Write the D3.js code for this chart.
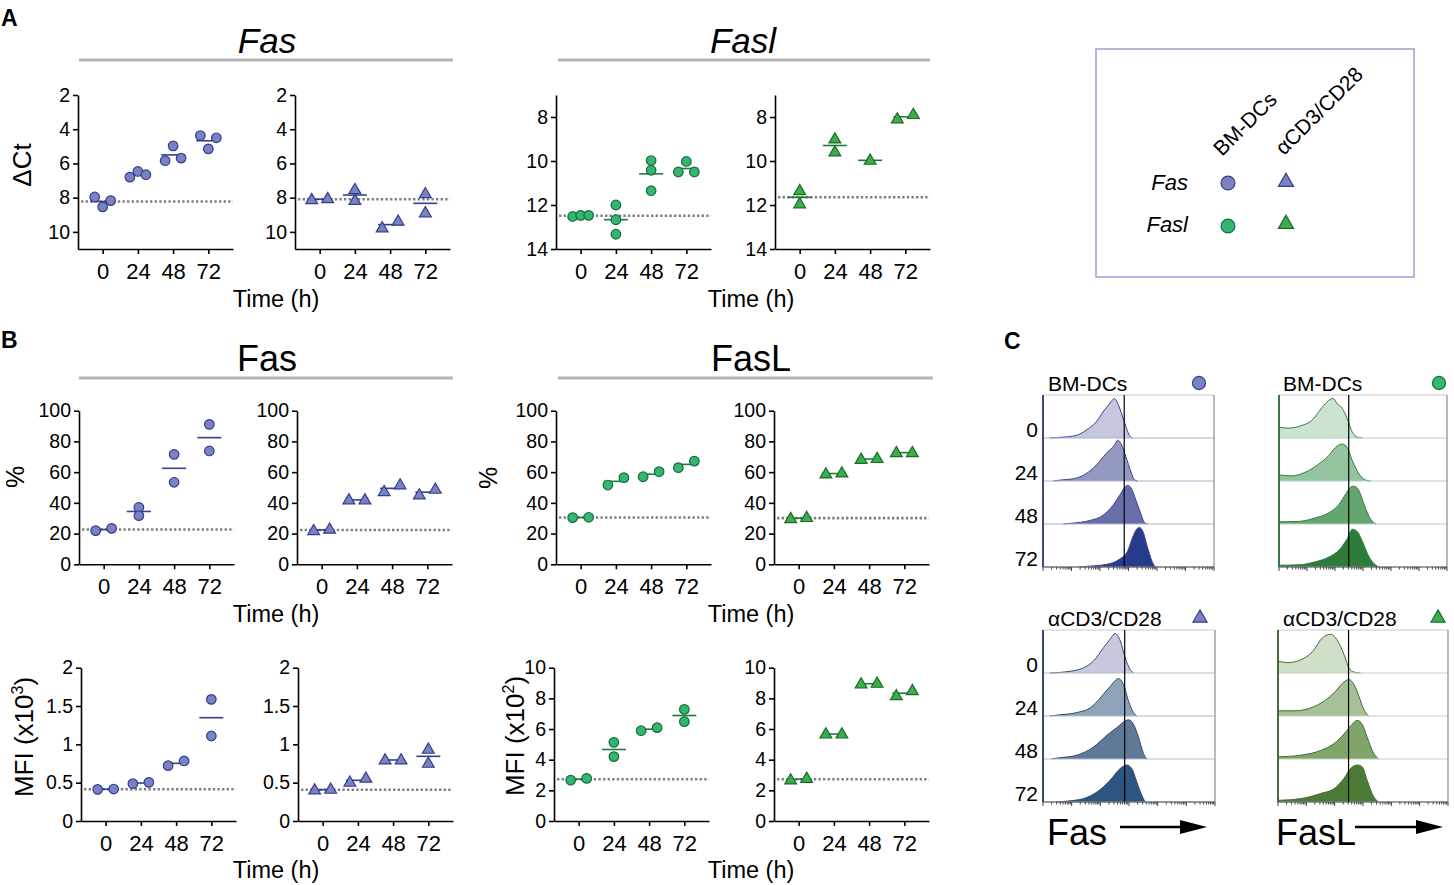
<!DOCTYPE html>
<html><head><meta charset="utf-8">
<script src="https://cdn.jsdelivr.net/npm/d3@7"></script>
<style>
body{margin:0;background:#fff}
svg{display:block}
text{font-family:Arial,"Liberation Sans",Helvetica,sans-serif;fill:#000}
</style>
</head><body>
<svg id="c" width="1454" height="885"></svg>
<script>
// ---------------- DATA ----------------
const times = [0, 24, 48, 72];

// Panel A: ΔCt (qPCR), one array per time point
const ctFasBMDC   = [[7.96, 8.54, 8.17], [6.80, 6.47, 6.66], [5.84, 4.97, 5.69], [4.37, 5.15, 4.50]];
const ctFasCD3    = [[8.12, 8.06], [7.53, 8.16], [9.77, 9.38], [7.77, 8.89]];
const ctFaslBMDC  = [[12.52, 12.47, 12.47], [12.0, 12.67, 13.33], [9.98, 10.42, 11.35], [10.5, 10.02, 10.5]];
const ctFaslCD3   = [[11.35, 11.95], [9.0, 9.59], [9.97], [8.09, 7.89]];

// Panel B: % positive cells
const pctFasBMDC  = [[21.9, 23.4], [37.1, 31.7], [71.6, 53.4], [91.1, 73.8]];
const pctFasCD3   = [[21.9, 22.8], [41.9, 41.9], [47.3, 51.6], [45.1, 48.8]];
const pctFasLBMDC = [[30.4, 30.6], [51.6, 56.4], [57.0, 60.3], [62.9, 67.2]];
const pctFasLCD3  = [[29.7, 30.4], [58.8, 59.4], [68.3, 68.8], [72.7, 72.7]];

// Panel B: MFI
const mfiFasBMDC  = [[0.413, 0.417], [0.487, 0.504], [0.722, 0.783], [1.587, 1.109]];
const mfiFasCD3   = [[0.404, 0.413], [0.504, 0.557], [0.796, 0.796], [0.935, 0.752]];
const mfiFasLBMDC = [[2.67, 2.78], [5.13, 4.20], [5.89, 6.09], [7.28, 6.48]];
const mfiFasLCD3  = [[2.67, 2.78], [5.67, 5.67], [8.93, 8.98], [8.17, 8.5]];

// Tick labels
const ticksCtFas  = [2, 4, 6, 8, 10];
const ticksCtFasl = [8, 10, 12, 14];
const ticksPct    = [0, 20, 40, 60, 80, 100];
const ticksMfiFas = [0, 0.5, 1, 1.5, 2];
const ticksMfiFasL= [0, 2, 4, 6, 8, 10];

// Panel C: histograms [channel (0-100), normalized count], rows 0/24/48/72 h
const histFasBMDC = [
  [[4,0],[11.7,0.02],[19.4,0.06],[25.2,0.18],[31,0.37],[35.9,0.65],[39.8,0.84],[41.7,0.92],[43.7,0.8],[46.6,0.49],[48.9,0.22],[50.5,0.06],[52.4,0]],
  [[6,0],[9.7,0.02],[17.5,0.05],[25.2,0.17],[31,0.36],[36.9,0.64],[41.7,0.83],[43.7,0.95],[45.6,0.87],[48.5,0.56],[51.5,0.21],[53.4,0.03],[55.3,0]],
  [[12,0],[17.5,0.02],[27.2,0.08],[35,0.2],[40.8,0.43],[44.7,0.66],[47.6,0.84],[49.5,0.9],[51.5,0.84],[54.4,0.55],[57.3,0.23],[59.2,0.04],[61.2,0]],
  [[22,0],[27.2,0.02],[36.9,0.06],[44.7,0.18],[49.5,0.37],[52.4,0.69],[54.4,0.86],[56.3,0.92],[58.3,0.84],[61.2,0.45],[63.7,0.14],[65.6,0]]
];
const histFasCD3 = [
  [[4,0],[13.9,0.03],[23.6,0.12],[29.4,0.28],[35.2,0.59],[39.1,0.79],[42,0.92],[44.9,0.75],[47.8,0.35],[50.7,0.08],[52.6,0]],
  [[4,0],[8.1,0.02],[19.7,0.08],[27.5,0.19],[33.3,0.42],[39.1,0.69],[43.9,0.87],[46.8,0.73],[49.7,0.35],[52.6,0.08],[54.5,0]],
  [[5,0],[8.1,0.02],[19.7,0.09],[29.4,0.28],[37.1,0.55],[42.9,0.73],[49.7,0.91],[52.6,0.81],[55.5,0.51],[58.4,0.13],[60.3,0]],
  [[8,0],[13.9,0.02],[23.6,0.08],[31.3,0.23],[39.1,0.51],[44.9,0.78],[48.7,0.86],[51.6,0.78],[54.5,0.47],[57.4,0.16],[59.4,0]]
];
const histFasLBMDC = [
  [[0.4,0.25],[5.4,0.23],[13.5,0.29],[19.5,0.41],[24.5,0.65],[28.6,0.84],[32.2,0.92],[34.6,0.8],[37.6,0.69],[40.6,0.45],[43.7,0.13],[46.7,0.02],[49.7,0]],
  [[0.4,0.14],[7.4,0.12],[15.5,0.2],[23.5,0.39],[29.6,0.59],[33.6,0.78],[37.6,0.86],[40.6,0.78],[43.7,0.47],[47.7,0.16],[51.7,0.02],[54.7,0]],
  [[0.4,0.05],[11.5,0.06],[21.5,0.14],[29.6,0.26],[35.6,0.45],[39.6,0.69],[42.7,0.86],[44.7,0.88],[47.7,0.77],[50.7,0.45],[54.7,0.1],[57.7,0]],
  [[0.4,0.04],[11.5,0.05],[21.5,0.12],[29.6,0.23],[36.6,0.43],[40.6,0.66],[43.7,0.88],[46.7,0.82],[49.7,0.59],[53.7,0.23],[57.7,0.04],[59.8,0]]
];
const histFasLCD3 = [
  [[0.4,0.27],[5.8,0.24],[13.6,0.31],[20.4,0.5],[26.2,0.82],[31.1,0.9],[35,0.75],[38.8,0.43],[41.7,0.12],[44.7,0.02],[48.5,0]],
  [[0.4,0.12],[9.7,0.12],[19.4,0.19],[27.2,0.35],[33,0.54],[38.8,0.79],[41.7,0.85],[44.7,0.73],[47.6,0.46],[50.5,0.15],[53.4,0]],
  [[0.4,0.05],[13.6,0.09],[25.2,0.2],[33,0.36],[38.8,0.58],[43.7,0.81],[46.6,0.9],[49.5,0.81],[52.4,0.51],[56.3,0.13],[59.2,0]],
  [[0.4,0.04],[13.6,0.08],[25.2,0.2],[33,0.31],[38.8,0.55],[42.7,0.78],[46.6,0.86],[49.5,0.82],[52.4,0.51],[56.3,0.12],[59.2,0]]
];
const gateFas = 47.5, gateFasL = 41.5;
const rowLabels = ["0", "24", "48", "72"];

// ---------------- STYLE ----------------
const BLUE = {fill: "#7b82c4", stroke: "#353e8a", line: "#353e8a"};
const GREENC = {fill: "#34b574", stroke: "#156e39", line: "#1d7a3d"};
const GREENT = {fill: "#3bae4b", stroke: "#1a6b2a", line: "#1d7a3d"};
const FONT = 'Arial,"Liberation Sans",Helvetica,sans-serif';

const svg = d3.select("#c");
svg.append("rect").attr("width", 1454).attr("height", 885).attr("fill", "#fff");

function sym(shape, size) {
  return d3.symbol().type(shape === "tri" ? d3.symbolTriangle : d3.symbolCircle).size(size)();
}

function scatter(cfg) {
  const {x0, yTop, yBot, domain, ticks, data, shape, col} = cfg;
  const W = 155;
  const g = svg.append("g");
  const xs = d3.scalePoint().domain(times).range([x0, x0 + W]).padding(0.7);
  const ys = d3.scaleLinear().domain(domain).range([yBot, yTop]);

  const base = d3.mean(data[0]);
  g.append("line").attr("x1", x0 + 3).attr("x2", x0 + W)
    .attr("y1", ys(base)).attr("y2", ys(base))
    .attr("stroke", "#808080").attr("stroke-width", 2.6).attr("stroke-dasharray", "2.4,2.2");

  const ya = d3.axisLeft(ys).tickValues(ticks).tickFormat(d => String(d))
    .tickSize(5).tickPadding(3).tickSizeOuter(0);
  const xa = d3.axisBottom(xs).tickSize(5).tickPadding(9).tickSizeOuter(0);
  const gy = g.append("g").attr("transform", `translate(${x0},0)`).call(ya);
  const gx = g.append("g").attr("transform", `translate(0,${yBot})`).call(xa);
  [gy, gx].forEach(a => {
    a.select(".domain").attr("stroke", "#000").attr("stroke-width", 1.6);
    a.selectAll(".tick line").attr("stroke", "#000").attr("stroke-width", 1.6);
    a.selectAll("text").attr("fill", "#000").style("font-family", FONT);
  });
  gy.selectAll("text").style("font-size", "19.5px");
  gx.selectAll("text").style("font-size", "22px");

  data.forEach((vals, i) => {
    const cx = xs(times[i]);
    const m = d3.mean(vals);
    g.append("line").attr("x1", cx - 12).attr("x2", cx + 12)
      .attr("y1", ys(m)).attr("y2", ys(m))
      .attr("stroke", col.line).attr("stroke-width", 1.6);
    const py = vals.map(v => ys(v));
    let overlap = false;
    for (let a = 0; a < py.length; a++)
      for (let b = a + 1; b < py.length; b++)
        if (Math.abs(py[a] - py[b]) < 7.9) overlap = true;
    const n = vals.length;
    vals.forEach((v, j) => {
      const off = (overlap && n > 1) ? (-8 + 16 * j / (n - 1)) : 0;
      g.append("path").attr("d", sym(shape, shape === "tri" ? 60 : 72))
        .attr("transform", `translate(${cx + off},${py[j] + (shape === "tri" ? 0.5 : 0)})`)
        .attr("fill", col.fill).attr("stroke", col.stroke).attr("stroke-width", 1.2);
    });
  });
}

function txt(x, y, s, size, opts = {}) {
  const t = svg.append("text").attr("x", x).attr("y", y).text(s)
    .style("font-size", size + "px").style("font-family", FONT);
  if (opts.anchor) t.attr("text-anchor", opts.anchor);
  if (opts.weight) t.style("font-weight", opts.weight);
  if (opts.italic) t.style("font-style", "italic");
  if (opts.rotate !== undefined) t.attr("x", 0).attr("y", 0).attr("transform", `translate(${x},${y}) rotate(${opts.rotate})`);
  return t;
}
function rule(x1, x2, y) {
  svg.append("line").attr("x1", x1).attr("x2", x2).attr("y1", y).attr("y2", y)
    .attr("stroke", "#b4b4b4").attr("stroke-width", 3);
}

// ---------------- PANEL A ----------------
txt(1, 26, "A", 23, {weight: "bold"});
txt(267, 53, "Fas", 35, {anchor: "middle", italic: true});
txt(743, 53, "Fasl", 35, {anchor: "middle", italic: true});
rule(79, 453, 60); rule(558, 930, 60);

scatter({x0: 78, yTop: 95, yBot: 249, domain: [11, 2], ticks: ticksCtFas, data: ctFasBMDC, shape: "circle", col: BLUE});
scatter({x0: 295, yTop: 95, yBot: 249, domain: [11, 2], ticks: ticksCtFas, data: ctFasCD3, shape: "tri", col: BLUE});
scatter({x0: 556, yTop: 95, yBot: 249, domain: [14, 7], ticks: ticksCtFasl, data: ctFaslBMDC, shape: "circle", col: GREENC});
scatter({x0: 775, yTop: 95, yBot: 249, domain: [14, 7], ticks: ticksCtFasl, data: ctFaslCD3, shape: "tri", col: GREENT});
txt(31, 165, "ΔCt", 26, {anchor: "middle", rotate: -90});
txt(276, 307, "Time (h)", 23.5, {anchor: "middle"});
txt(751, 307, "Time (h)", 23.5, {anchor: "middle"});

// ---------------- LEGEND ----------------
svg.append("rect").attr("x", 1096).attr("y", 49).attr("width", 318).attr("height", 228)
  .attr("fill", "none").attr("stroke", "#9c9cd4").attr("stroke-width", 1.5);
txt(1222, 157, "BM-DCs", 21, {rotate: -45});
txt(1284, 156, "αCD3/CD28", 21, {rotate: -45});
txt(1188, 190, "Fas", 22, {anchor: "end", italic: true});
txt(1188, 232, "Fasl", 22, {anchor: "end", italic: true});
[[1228, 183, "circle", BLUE], [1286, 182, "tri", BLUE], [1228, 226, "circle", GREENC], [1286, 224, "tri", GREENT]]
  .forEach(([x, y, s, c]) => {
    svg.append("path").attr("d", sym(s, s === "tri" ? 100 : 150)).attr("transform", `translate(${x},${y})`)
      .attr("fill", c.fill).attr("stroke", c.stroke).attr("stroke-width", 1.2);
  });

// ---------------- PANEL B ----------------
txt(1, 348, "B", 23, {weight: "bold"});
txt(267, 371, "Fas", 36, {anchor: "middle"});
txt(751, 371, "FasL", 36, {anchor: "middle"});
rule(79, 453, 378); rule(558, 933, 378);

scatter({x0: 79, yTop: 410.7, yBot: 564.3, domain: [0, 100], ticks: ticksPct, data: pctFasBMDC, shape: "circle", col: BLUE});
scatter({x0: 297, yTop: 410.7, yBot: 564.3, domain: [0, 100], ticks: ticksPct, data: pctFasCD3, shape: "tri", col: BLUE});
scatter({x0: 556, yTop: 410.7, yBot: 564.3, domain: [0, 100], ticks: ticksPct, data: pctFasLBMDC, shape: "circle", col: GREENC});
scatter({x0: 774, yTop: 410.7, yBot: 564.3, domain: [0, 100], ticks: ticksPct, data: pctFasLCD3, shape: "tri", col: GREENT});
txt(24, 477, "%", 25, {anchor: "middle", rotate: -90});
txt(497, 478, "%", 25, {anchor: "middle", rotate: -90});
txt(276, 622, "Time (h)", 23.5, {anchor: "middle"});
txt(751, 622, "Time (h)", 23.5, {anchor: "middle"});

scatter({x0: 81, yTop: 667.7, yBot: 821, domain: [0, 2], ticks: ticksMfiFas, data: mfiFasBMDC, shape: "circle", col: BLUE});
scatter({x0: 298, yTop: 667.7, yBot: 821, domain: [0, 2], ticks: ticksMfiFas, data: mfiFasCD3, shape: "tri", col: BLUE});
scatter({x0: 554, yTop: 667.7, yBot: 821, domain: [0, 10], ticks: ticksMfiFasL, data: mfiFasLBMDC, shape: "circle", col: GREENC});
scatter({x0: 774, yTop: 667.7, yBot: 821, domain: [0, 10], ticks: ticksMfiFasL, data: mfiFasLCD3, shape: "tri", col: GREENT});

function mfiLabel(x, y, exp) {
  const t = txt(x, y, "", 26, {anchor: "middle", rotate: -90});
  t.append("tspan").text("MFI (x10");
  t.append("tspan").text(exp).style("font-size", "16px").attr("dy", -10);
  t.append("tspan").text(")").attr("dy", 10);
}
mfiLabel(33, 737, "3");
mfiLabel(524, 736, "2");
txt(276, 878, "Time (h)", 23.5, {anchor: "middle"});
txt(751, 878, "Time (h)", 23.5, {anchor: "middle"});

// ---------------- PANEL C ----------------
txt(1004, 349, "C", 23, {weight: "bold"});

function histBox(cfg) {
  const {x, y, w, h, hists, fills, stroke, sep, left, gate, labels} = cfg;
  const g = svg.append("g");
  const xs = d3.scaleLinear().domain([0, 100]).range([x, x + w]);
  const rh = h / hists.length;
  hists.forEach((hd, i) => {
    const top = y + i * rh, base = top + rh;
    const ys = d3.scaleLinear().domain([0, 1]).range([base, top]);
    const area = d3.area().x(d => xs(d[0])).y0(base).y1(d => ys(d[1])).curve(d3.curveMonotoneX);
    const line = d3.line().x(d => xs(d[0])).y(d => ys(d[1])).curve(d3.curveMonotoneX);
    g.append("path").attr("d", area(hd)).attr("fill", fills[i]);
    g.append("path").attr("d", line(hd)).attr("fill", "none").attr("stroke", stroke).attr("stroke-width", 1);
    g.append("line").attr("x1", x).attr("x2", x + w).attr("y1", base).attr("y2", base)
      .attr("stroke", sep).attr("stroke-width", 1.2);
    if (labels) txt(x - 5, base - 1, labels[i], 21, {anchor: "end"});
  });
  // frame
  g.append("line").attr("x1", x).attr("x2", x + w).attr("y1", y).attr("y2", y).attr("stroke", "#c8c8c8").attr("stroke-width", 1);
  g.append("line").attr("x1", x + w).attr("x2", x + w).attr("y1", y).attr("y2", y + h).attr("stroke", "#8a8a8a").attr("stroke-width", 1.2);
  g.append("line").attr("x1", x).attr("x2", x).attr("y1", y).attr("y2", y + h).attr("stroke", left).attr("stroke-width", 2);
  // gate
  g.append("line").attr("x1", xs(gate)).attr("x2", xs(gate)).attr("y1", y).attr("y2", y + h).attr("stroke", "#000").attr("stroke-width", 1.2);
  // log axis
  const ls = d3.scaleLog().domain([1, 1e6]).range([x, x + w]);
  g.append("line").attr("x1", x).attr("x2", x + w).attr("y1", y + h).attr("y2", y + h).attr("stroke", "#555").attr("stroke-width", 1.2);
  ls.ticks().forEach(t => {
    const major = Math.abs(Math.log10(t) - Math.round(Math.log10(t))) < 1e-9;
    g.append("line").attr("x1", ls(t)).attr("x2", ls(t)).attr("y1", y + h).attr("y2", y + h + (major ? 4 : 2.5))
      .attr("stroke", "#444").attr("stroke-width", 1);
  });
}

histBox({x: 1043, y: 395, w: 171, h: 172, hists: histFasBMDC,
  fills: ["#c4c7dd", "#9398c2", "#686fa8", "#283a8b"], stroke: "#3f4688", sep: "#aeb1d2", left: "#3f4688", gate: gateFas, labels: rowLabels});
histBox({x: 1279, y: 395, w: 168, h: 172, hists: histFasLBMDC,
  fills: ["#cce3d2", "#93c49e", "#64a670", "#2e7c3a"], stroke: "#3a7a46", sep: "#b4d6bc", left: "#3a7a46", gate: gateFasL});
histBox({x: 1043, y: 630, w: 172, h: 172, hists: histFasCD3,
  fills: ["#c6c9dd", "#8ea2b8", "#5e7a97", "#2c5680"], stroke: "#364a72", sep: "#b0bccc", left: "#364a72", gate: gateFas, labels: rowLabels});
histBox({x: 1278, y: 630, w: 170, h: 172, hists: histFasLCD3,
  fills: ["#d0e0c8", "#a5c096", "#7fa56b", "#4b7b35"], stroke: "#456a36", sep: "#c2d4b8", left: "#456a36", gate: gateFasL});

txt(1048, 391, "BM-DCs", 21);
txt(1283, 391, "BM-DCs", 21);
txt(1048, 626, "αCD3/CD28", 21);
txt(1283, 626, "αCD3/CD28", 21);
[[1199, 383, "circle", BLUE], [1439, 383, "circle", GREENC], [1200, 618, "tri", BLUE], [1438, 618, "tri", GREENT]]
  .forEach(([x, y, s, c]) => {
    svg.append("path").attr("d", sym(s, s === "tri" ? 85 : 135)).attr("transform", `translate(${x},${y})`)
      .attr("fill", c.fill).attr("stroke", c.stroke).attr("stroke-width", 1.2);
  });

txt(1047, 845, "Fas", 36);
txt(1276, 845, "FasL", 36);
function arrow(x1, x2, y) {
  svg.append("line").attr("x1", x1).attr("x2", x2 - 20).attr("y1", y).attr("y2", y).attr("stroke", "#000").attr("stroke-width", 2.5);
  svg.append("path").attr("d", `M${x2 - 27},${y - 7} L${x2},${y} L${x2 - 27},${y + 7} Z`).attr("fill", "#000");
}
arrow(1120, 1207, 827);
arrow(1355, 1443, 827);
</script>
</body></html>
